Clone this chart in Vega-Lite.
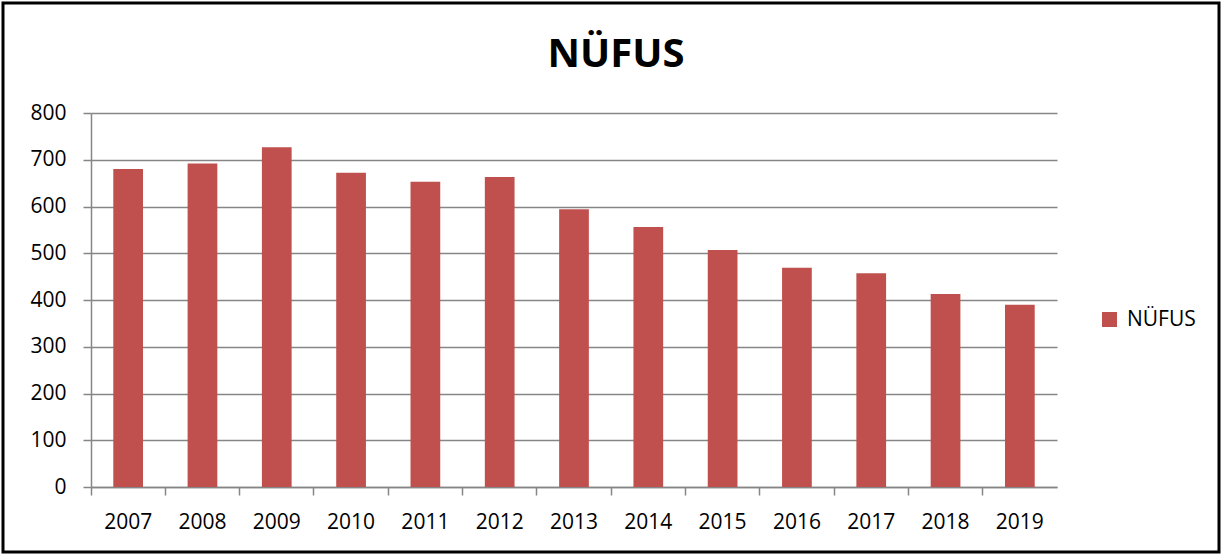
{
  "$schema": "https://vega.github.io/schema/vega-lite/v6.json",
  "width": 1216,
  "height": 549,
  "autosize": {"type": "none"},
  "padding": {"left": 3, "top": 3, "right": 4, "bottom": 4},
  "background": "white",
  "title": {
    "text": "NÜFUS",
    "font": "Open Sans",
    "fontSize": 40,
    "fontWeight": "bold",
    "color": "black",
    "anchor": "middle",
    "frame": "group",
    "baseline": "alphabetic",
    "offset": -104,
    "dx": 5
  },
  "data": {
    "values": [
      {"yil": "2007", "nufus": 680},
      {"yil": "2008", "nufus": 692},
      {"yil": "2009", "nufus": 727},
      {"yil": "2010", "nufus": 672},
      {"yil": "2011", "nufus": 653},
      {"yil": "2012", "nufus": 663},
      {"yil": "2013", "nufus": 594},
      {"yil": "2014", "nufus": 556},
      {"yil": "2015", "nufus": 507},
      {"yil": "2016", "nufus": 469},
      {"yil": "2017", "nufus": 457},
      {"yil": "2018", "nufus": 413},
      {"yil": "2019", "nufus": 390}
    ]
  },
  "mark": {"type": "bar", "width": {"band": 0.4}},
  "encoding": {
    "x": {
      "field": "yil",
      "type": "ordinal",
      "scale": {"range": [88, 1054], "paddingInner": 0, "paddingOuter": 0},
      "axis": {
        "title": null,
        "orient": "bottom",
        "offset": -65,
        "bandPosition": 0,
        "labelAngle": 0,
        "grid": false,
        "domainColor": "#868686",
        "domainWidth": 1.5,
        "tickColor": "#868686",
        "tickWidth": 1.5,
        "tickSize": 8,
        "labelFont": "Open Sans",
        "labelFontSize": 21,
        "labelColor": "black",
        "labelPadding": 16
      }
    },
    "y": {
      "field": "nufus",
      "type": "quantitative",
      "scale": {"domain": [0, 800], "range": [484, 110], "nice": false},
      "axis": {
        "title": null,
        "orient": "left",
        "offset": -88,
        "values": [0, 100, 200, 300, 400, 500, 600, 700, 800],
        "grid": true,
        "gridColor": "#868686",
        "gridWidth": 1.5,
        "domainColor": "#868686",
        "domainWidth": 1.5,
        "tickColor": "#868686",
        "tickWidth": 1.5,
        "tickSize": 8,
        "labelFont": "Open Sans",
        "labelFontSize": 21,
        "labelColor": "black",
        "labelPadding": 17
      }
    },
    "color": {
      "datum": "NÜFUS",
      "type": "nominal",
      "scale": {"range": ["#C0504D"]},
      "legend": {
        "title": null,
        "orient": "none",
        "legendX": 1096,
        "legendY": 306,
        "padding": 0,
        "symbolType": "square",
        "symbolSize": 225,
        "symbolStrokeWidth": 0,
        "labelFont": "Open Sans",
        "labelFontSize": 21,
        "labelColor": "black",
        "labelOffset": 7
      }
    }
  },
  "config": {"view": {"stroke": "black", "strokeWidth": 3}}
}
